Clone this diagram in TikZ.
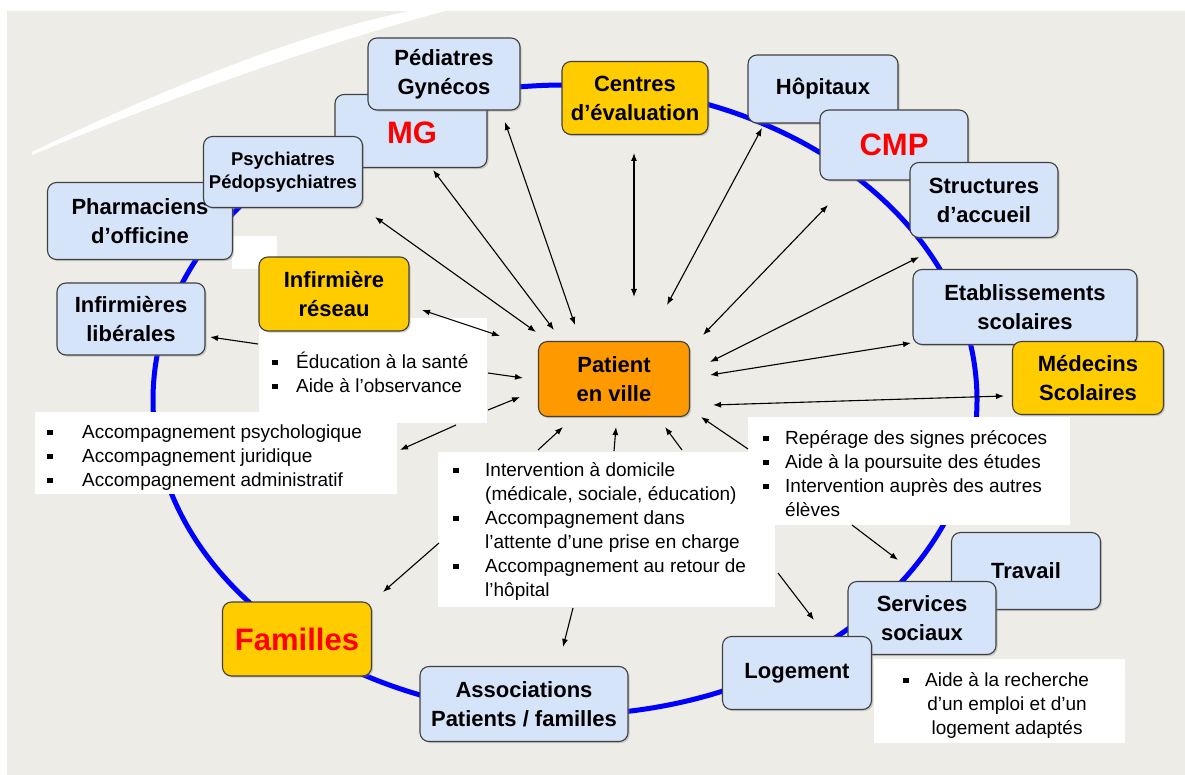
\documentclass[tikz,border=0pt]{standalone}
\usepackage{fontspec}
\setmainfont{Liberation Sans}
\usetikzlibrary{arrows.meta,shadows}
\definecolor{paper}{RGB}{237,236,230}
\definecolor{paleblue}{RGB}{214,228,250}
\definecolor{gold}{RGB}{255,204,0}
\definecolor{tangerine}{RGB}{255,153,0}
\definecolor{ringblue}{RGB}{0,0,255}
\definecolor{alertred}{RGB}{255,0,0}
\newcommand{\puce}{\rule[3pt]{5.5pt}{5.5pt}}

\begin{document}
\begin{tikzpicture}[x=1pt,y=-1pt,
  box/.style={draw=black!75,line width=1.1pt,rounded corners=9pt,fill=paleblue,
    drop shadow={shadow xshift=1.6pt,shadow yshift=-1.6pt,opacity=0.35},
    inner sep=0pt,align=center,font=\fontsize{22}{29}\selectfont\bfseries},
  goldbox/.style={box,fill=gold},
  bigred/.style={font=\fontsize{31}{31}\selectfont\bfseries,text=alertred},
  note/.style={fill=white,inner sep=0pt},
  notetext/.style={anchor=base west,inner sep=0pt,font=\fontsize{19}{24}\selectfont},
  both/.style={line width=1.1pt,{Latex[length=8pt,width=6pt]}-{Latex[length=8pt,width=6pt]}},
  onto/.style={line width=1.1pt,-{Latex[length=8pt,width=6pt]}},
  ring/.style={draw=ringblue,line width=5pt}]
\useasboundingbox[fill=white] (0,0) rectangle (1185,775);
\fill[paper] (7,11) rectangle (1185,775);
\fill[white] (32,155) .. controls (140,110) and (300,50) .. (445,11)
  -- (410,11) .. controls (290,35) and (140,100) .. (32,152) -- cycle;

% the ring
\draw[ring] (565,400) ellipse [x radius=412pt, y radius=315pt];
\fill[white] (232,236) rectangle (277,269);

% white notes
\node[note,minimum width=228pt,minimum height=105pt] (educ) at (373,370.5) {};
\node[note,minimum width=362pt,minimum height=82pt] (accomp) at (216,453) {};
\node[note,minimum width=337pt,minimum height=155pt] (interv) at (606.5,529.5) {};
\node[note,minimum width=322pt,minimum height=108pt] (repere) at (909,471) {};
\node[note,minimum width=251pt,minimum height=84pt] (aide) at (999.5,701) {};

\node[notetext] (educ-txt) at (272,368) {\begin{tabular}[t]{@{}p{24pt}@{}l@{}}
  \puce & Éducation à la santé\\ \puce & Aide à l'observance\end{tabular}};
\node[notetext] (accomp-txt) at (47,438) {\begin{tabular}[t]{@{}p{35pt}@{}l@{}}
  \puce & Accompagnement psychologique\\ \puce & Accompagnement juridique\\
  \puce & Accompagnement administratif\end{tabular}};
\node[notetext] (interv-txt) at (453,476) {\begin{tabular}[t]{@{}p{32pt}@{}l@{}}
  \puce & Intervention à domicile\\ & (médicale, sociale, éducation)\\
  \puce & Accompagnement dans\\ & l'attente d'une prise en charge\\
  \puce & Accompagnement au retour de\\ & l'hôpital\end{tabular}};
\node[notetext] (repere-txt) at (763,444) {\begin{tabular}[t]{@{}p{22pt}@{}l@{}}
  \puce & Repérage des signes précoces\\ \puce & Aide à la poursuite des études\\
  \puce & Intervention auprès des autres\\ & élèves\end{tabular}};
\node[notetext] (aide-txt) at (903,686) {\begin{tabular}[t]{@{}p{22pt}@{}c@{}}
  \puce & Aide à la recherche\\ & d'un emploi et d'un\\ & logement adaptés\end{tabular}};

% boxes, back to front
\node[box,minimum width=152pt,minimum height=73pt] (mg) at (411,131) {};
\node[bigred] (mg-txt) at (412,133) {MG};
\node[box,minimum width=185pt,minimum height=77pt] (pharma) at (140,221) {Pharmaciens\\d’officine};
\node[box,minimum width=159pt,minimum height=71pt,font=\fontsize{18.5}{23}\selectfont\bfseries] (psy) at (283,172) {Psychiatres\\Pédopsychiatres};
\node[box,minimum width=152pt,minimum height=72pt] (ped) at (444,74) {Pédiatres\\Gynécos};
\node[box,minimum width=148pt,minimum height=72pt] (infl) at (131,319) {Infirmières\\libérales};
\node[goldbox,minimum width=150pt,minimum height=74pt] (infr) at (334,294) {Infirmière\\réseau};
\node[goldbox,minimum width=146pt,minimum height=73pt] (cent) at (635,98) {Centres\\d’évaluation};
\node[box,minimum width=150pt,minimum height=68pt] (hop) at (823,89) {Hôpitaux};
\node[box,minimum width=148pt,minimum height=70pt,bigred] (cmp) at (894,145) {CMP};
\node[box,minimum width=148pt,minimum height=75pt] (struct) at (984,200) {Structures\\d’accueil};
\node[box,minimum width=224pt,minimum height=75pt] (etab) at (1025,307) {Etablissements\\scolaires};
\node[goldbox,minimum width=151pt,minimum height=73pt] (medsc) at (1088,378) {Médecins\\Scolaires};
\node[box,minimum width=149pt,minimum height=77pt] (trav) at (1026,571) {Travail};
\node[box,minimum width=148pt,minimum height=73pt] (serv) at (922,618) {Services\\sociaux};
\node[box,minimum width=149pt,minimum height=73pt] (loge) at (797,673) {Logement};
\node[box,minimum width=208pt,minimum height=75pt] (assoc) at (524,704) {Associations\\Patients / familles};
\node[goldbox,minimum width=149pt,minimum height=74pt,bigred] (fam) at (297,639) {Familles};
\node[box,fill=tangerine,minimum width=151pt,minimum height=75pt] (patient) at (614,379) {Patient\\en ville};

% arrow ends
\coordinate (pat-ped) at (575,325);  \coordinate (ped-pat) at (505,122);
\coordinate (pat-mg) at (554,330);   \coordinate (mg-pat) at (433,170);
\coordinate (pat-psy) at (536,332);  \coordinate (psy-pat) at (375,217);
\coordinate (pat-infr) at (500,336); \coordinate (infr-pat) at (422,310);
\coordinate (pat-cent) at (634,297); \coordinate (cent-pat) at (634,153);
\coordinate (pat-hop) at (667,305);  \coordinate (hop-pat) at (762,128);
\coordinate (pat-cmp) at (703,335);  \coordinate (cmp-pat) at (828,205);
\coordinate (pat-str) at (710,362);  \coordinate (str-pat) at (919,257);
\coordinate (pat-etab) at (710,375); \coordinate (etab-pat) at (911,343);
\coordinate (pat-med) at (713,405);  \coordinate (med-pat) at (1004,396);
\coordinate (to-infl) at (210,337);
\coordinate (to-pat1) at (523,378);  \coordinate (to-pat2) at (520,397);
\coordinate (to-pat3) at (563,427);  \coordinate (to-pat4) at (616,427);
\coordinate (to-pat5) at (665,427);  \coordinate (to-pat6) at (701,417);
\coordinate (to-accomp) at (400,450);
\coordinate (to-fam) at (383,592);   \coordinate (to-assoc) at (563,647);
\coordinate (to-serv) at (898,560);  \coordinate (to-loge) at (814,620);
\coordinate (from-educ1) at (258,344); \coordinate (from-educ2) at (488,373);
\coordinate (from-educ3) at (488,410); \coordinate (from-educ4) at (456,425);
\coordinate (from-int1) at (538,450); \coordinate (from-int2) at (614,451);
\coordinate (from-int3) at (682,450); \coordinate (from-int4) at (439,543);
\coordinate (from-int5) at (573,608); \coordinate (from-int6) at (778,573);
\coordinate (from-rep1) at (748,449); \coordinate (from-rep2) at (852,525);

\draw[both] (pat-ped) -- (ped-pat);
\draw[both] (pat-mg) -- (mg-pat);
\draw[both] (pat-psy) -- (psy-pat);
\draw[both] (pat-infr) -- (infr-pat);
\draw[both] (pat-cent) -- (cent-pat);
\draw[both] (pat-hop) -- (hop-pat);
\draw[both] (pat-cmp) -- (cmp-pat);
\draw[both] (pat-str) -- (str-pat);
\draw[both] (pat-etab) -- (etab-pat);
\draw[both] (pat-med) -- (med-pat);
\draw[onto] (from-educ1) -- (to-infl);
\draw[onto] (from-educ2) -- (to-pat1);
\draw[onto] (from-educ3) -- (to-pat2);
\draw[onto] (from-educ4) -- (to-accomp);
\draw[onto] (from-int1) -- (to-pat3);
\draw[onto] (from-int2) -- (to-pat4);
\draw[onto] (from-int3) -- (to-pat5);
\draw[onto] (from-rep1) -- (to-pat6);
\draw[onto] (from-int4) -- (to-fam);
\draw[onto] (from-int5) -- (to-assoc);
\draw[onto] (from-int6) -- (to-loge);
\draw[onto] (from-rep2) -- (to-serv);
\end{tikzpicture}
\end{document}
